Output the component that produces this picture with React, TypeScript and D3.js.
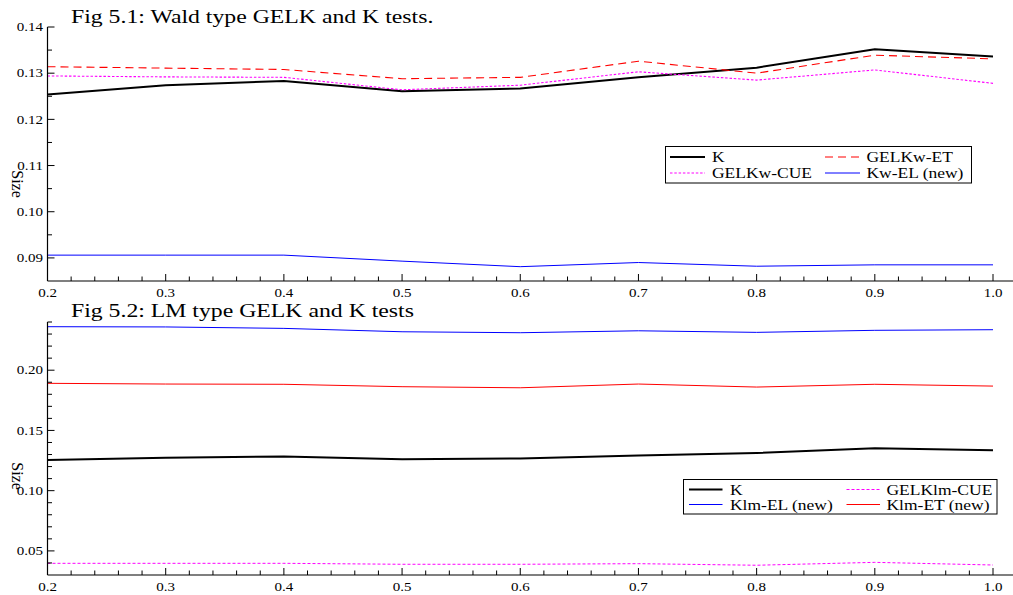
import React from "react";
import * as d3 from "d3";

// Parameter values on the horizontal axis
const xValues = [0.2, 0.3, 0.4, 0.5, 0.6, 0.7, 0.8, 0.9, 1.0];
const xTickValues = [0.2, 0.3, 0.4, 0.5, 0.6, 0.7, 0.8, 0.9, 1.0];

// Empirical size of the K test (shared by both figures)
const kSize = [0.1254, 0.1274, 0.1283, 0.1261, 0.1267, 0.1291, 0.1312, 0.1352, 0.1336];

// Wald type tests
const gelkwEt = [0.1314, 0.1311, 0.1308, 0.1288, 0.1291, 0.1326, 0.13, 0.1339, 0.1331];
const gelkwCue = [0.1294, 0.1292, 0.1291, 0.1264, 0.1274, 0.1303, 0.1285, 0.1307, 0.1278];
const kwEl = [0.0906, 0.0906, 0.0906, 0.0893, 0.0881, 0.089, 0.0882, 0.0885, 0.0885];

// LM type tests
const klmEl = [0.2361, 0.2359, 0.2347, 0.2319, 0.2311, 0.2327, 0.2314, 0.2331, 0.2336];
const klmEt = [0.1891, 0.1885, 0.1883, 0.1863, 0.1854, 0.1885, 0.186, 0.1883, 0.1868];
const gelklmCue = [0.0397, 0.0397, 0.0397, 0.0389, 0.0389, 0.0394, 0.0381, 0.0405, 0.0383];

const waldYTicks = [0.09, 0.1, 0.11, 0.12, 0.13, 0.14];
const lmYTicks = [0.05, 0.1, 0.15, 0.2];

const FONT = "'Liberation Serif', 'Times New Roman', serif";
const SX = 1.25;

type Series = {
  name: string;
  values: number[];
  color: string;
  width: number;
  dash?: string;
};

type LegendSpec = {
  x0: number;
  y0: number;
  x1: number;
  y1: number;
  rows: number[];
  lineCols: [number, number][];
  textCols: number[];
  order: string[][];
};

function SText(props: {
  x: number;
  y: number;
  size: number;
  anchor?: string;
  sx?: number;
  dy?: string;
  children: React.ReactNode;
}) {
  const { x, y, size, anchor = "start", sx = SX, dy, children } = props;
  return (
    <g transform={`translate(${x},${y}) scale(${sx},1)`}>
      <text fontFamily={FONT} fontSize={size} textAnchor={anchor as any} dy={dy} fill="#000">
        {children}
      </text>
    </g>
  );
}

function Panel(props: {
  title: string;
  titleY: number;
  yDomain: [number, number];
  yRange: [number, number];
  yTicks: number[];
  yMinorStep: number;
  labelY: number;
  series: Series[];
  legend: LegendSpec;
}) {
  const { title, titleY, yDomain, yRange, yTicks, yMinorStep, labelY, series, legend } = props;
  const x = d3.scaleLinear().domain([0.2, 1.0]).range([47.5, 993]);
  const y = d3.scaleLinear().domain(yDomain).range(yRange);
  const axisY = yRange[0];
  const topY = yRange[1];
  const left = x(0.2);

  const xMinor = d3.range(0, 41).map((i) => 0.2 + i * 0.02).filter((_, i) => i % 5 !== 0);
  const nMinor = Math.round((yDomain[1] - yDomain[0]) / yMinorStep);
  const yMinor = d3
    .range(1, nMinor + 1)
    .map((i) => yDomain[0] + i * yMinorStep)
    .filter((v) => !yTicks.some((t) => Math.abs(t - v) < 1e-9));

  const line = d3
    .line<number>()
    .x((_, i) => x(xValues[i]))
    .y((d) => y(d));

  const byName: Record<string, Series> = {};
  series.forEach((s) => (byName[s.name] = s));

  return (
    <g>
      <SText x={71} y={titleY} size={19} sx={1.25}>
        {title}
      </SText>

      {series.map((s) => (
        <path
          key={s.name}
          d={line(s.values) || ""}
          fill="none"
          stroke={s.color}
          strokeWidth={s.width}
          strokeDasharray={s.dash}
          strokeLinejoin="round"
        />
      ))}

      {/* axes */}
      <line x1={left} x2={1013} y1={axisY} y2={axisY} stroke="#000" strokeWidth={1.2} />
      <line x1={left} x2={left} y1={axisY} y2={topY} stroke="#000" strokeWidth={1.2} />

      {xTickValues.map((v) => (
        <g key={"xt" + v}>
          <line x1={x(v)} x2={x(v)} y1={axisY} y2={axisY - 7} stroke="#000" strokeWidth={1} />
          <SText x={x(v)} y={axisY + 15.5} size={12} anchor="middle" sx={1.25}>
            {d3.format(".1f")(v)}
          </SText>
        </g>
      ))}
      {xMinor.map((v) => (
        <line key={"xm" + v} x1={x(v)} x2={x(v)} y1={axisY} y2={axisY - 4.5} stroke="#000" strokeWidth={1} />
      ))}

      {yTicks.map((v) => (
        <g key={"yt" + v}>
          <line x1={left} x2={left + 7} y1={y(v)} y2={y(v)} stroke="#000" strokeWidth={1} />
          <SText x={43} y={y(v)} size={12} anchor="end" sx={1.25} dy="0.35em">
            {d3.format(".2f")(v)}
          </SText>
        </g>
      ))}
      {yMinor.map((v) => (
        <line key={"ym" + v} x1={left} x2={left + 4.5} y1={y(v)} y2={y(v)} stroke="#000" strokeWidth={1} />
      ))}

      <text
        transform={`translate(12,${labelY}) rotate(90)`}
        fontFamily={FONT}
        fontSize={16}
        textAnchor="middle"
        fill="#000"
      >
        Size
      </text>

      {/* legend */}
      <rect
        x={legend.x0}
        y={legend.y0}
        width={legend.x1 - legend.x0}
        height={legend.y1 - legend.y0}
        fill="#fff"
        stroke="#000"
        strokeWidth={1}
      />
      {legend.order.map((row, ri) =>
        row.map((name, ci) => {
          const s = byName[name];
          const ly = legend.rows[ri];
          const [lx0, lx1] = legend.lineCols[ci];
          return (
            <g key={name}>
              <line
                x1={lx0}
                x2={lx1}
                y1={ly}
                y2={ly}
                stroke={s.color}
                strokeWidth={s.width}
                strokeDasharray={s.dash}
              />
              <SText x={legend.textCols[ci]} y={ly + 5} size={14}>
                {name}
              </SText>
            </g>
          );
        })
      )}
    </g>
  );
}

export default function App() {
  const waldSeries: Series[] = [
    { name: "K", values: kSize, color: "#000", width: 2 },
    { name: "GELKw-ET", values: gelkwEt, color: "#ff0000", width: 1.1, dash: "8,5" },
    { name: "GELKw-CUE", values: gelkwCue, color: "#ff00ff", width: 1.1, dash: "2.5,1.8" },
    { name: "Kw-EL (new)", values: kwEl, color: "#0000ff", width: 1 },
  ];
  const lmSeries: Series[] = [
    { name: "K", values: kSize, color: "#000", width: 2 },
    { name: "GELKlm-CUE", values: gelklmCue, color: "#ff00ff", width: 1, dash: "3,2" },
    { name: "Klm-EL (new)", values: klmEl, color: "#0000ff", width: 1 },
    { name: "Klm-ET (new)", values: klmEt, color: "#ff0000", width: 1 },
  ];

  return (
    <svg
      width={1013}
      height={595}
      style={{ position: "absolute", left: 0, top: 0, background: "#fff" }}
    >
      <rect width={1013} height={595} fill="#fff" />
      <Panel
        title="Fig 5.1: Wald type GELK and K tests."
        titleY={23}
        yDomain={[0.085, 0.14]}
        yRange={[281, 27]}
        yTicks={waldYTicks}
        yMinorStep={0.005}
        labelY={184}
        series={waldSeries}
        legend={{
          x0: 665.5,
          y0: 146.5,
          x1: 971.5,
          y1: 183,
          rows: [157, 173],
          lineCols: [
            [670, 705],
            [825, 860],
          ],
          textCols: [712, 866.5],
          order: [
            ["K", "GELKw-ET"],
            ["GELKw-CUE", "Kw-EL (new)"],
          ],
        }}
      />
      <Panel
        title="Fig 5.2: LM type GELK and K tests"
        titleY={317}
        yDomain={[0.03, 0.24]}
        yRange={[575, 322]}
        yTicks={lmYTicks}
        yMinorStep={0.01}
        labelY={476}
        series={lmSeries}
        legend={{
          x0: 683.5,
          y0: 479.5,
          x1: 997,
          y1: 514,
          rows: [489.5, 504.5],
          lineCols: [
            [689, 722.5],
            [846.5, 880],
          ],
          textCols: [730, 886.5],
          order: [
            ["K", "GELKlm-CUE"],
            ["Klm-EL (new)", "Klm-ET (new)"],
          ],
        }}
      />
    </svg>
  );
}
